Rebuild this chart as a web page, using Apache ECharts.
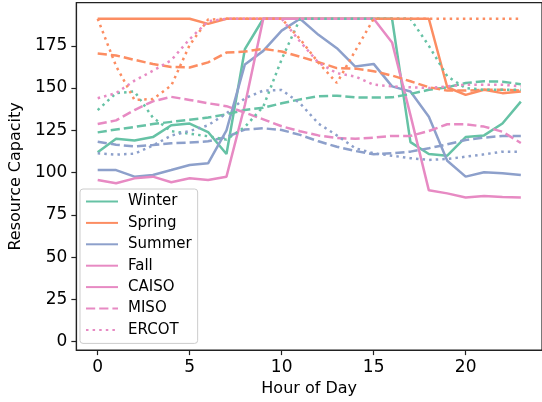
<!DOCTYPE html>
<html><head><meta charset="utf-8">
<script src="https://cdn.jsdelivr.net/npm/echarts@6/dist/echarts.min.js"></script>
<style>html,body{margin:0;padding:0;background:#fff}#c{width:542px;height:402px}</style>
</head><body><div id="c"></div>
<script>
const hours = [0,1,2,3,4,5,6,7,8,9,10,11,12,13,14,15,16,17,18,19,20,21,22,23];
const seasons = ["Winter","Spring","Summer","Fall"];
const isos = ["CAISO","MISO","ERCOT"];
const xTicks = [0,5,10,15,20];
const yTicks = [0,25,50,75,100,125,150,175];

const winterCAISO = [112,120,119,121,128,129,124,111,173,191,191,191,191,191,191,191,191,118,111,110,121,122,129,142];
const springCAISO = [191,191,191,191,191,191,188,191,191,191,191,191,191,191,191,191,191,191,191,150.5,146,149,147,148];
const summerCAISO = [101.5,101.5,97.6,98.6,101.5,104.5,105.5,125,164,172,184,191,181.5,173.6,162.7,164.3,151,148,133,107,97.6,100.2,99.6,98.6];
const fallCAISO = [95.6,93.7,96.6,97.6,94.3,96.6,95.6,97.6,140,191,191,191,191,191,191,191,177,134,89.5,87.7,85.3,86.2,85.6,85.3];

const winterMISO = [123.8,125.5,127,128.7,130,131.3,132.6,134.5,137,138.4,141,143.3,145.2,145.5,144.5,144.4,144.5,146.5,149,150.5,153,154,153.8,152.3];
const springMISO = [170.4,169.3,166.7,164.2,162.5,162.2,165.2,171,171.6,173.2,171.6,168.6,165.3,161.8,161.5,160,157.4,154,150.5,148.5,148.5,149,149,148.5];
const summerMISO = [118.3,116.5,115.5,116.3,117.3,117.8,118.5,121,125.5,126.2,125.2,122.3,118.5,115.3,112.8,110.8,111.4,112.4,114.4,116.7,119.3,120.7,121.7,121.7];
const fallMISO = [128.7,130.9,137,142.2,144.8,143,141,139.3,135.5,131.5,127.4,124.5,122,120.5,120,120.7,121.7,121.7,124.6,128.6,128.6,127.2,124.2,117.5];

const winterERCOT = [137,147,148,132.5,124.5,123,121.5,119.5,127,139,167,191,191,191,191,191,191,191,175,157,150,149,149,149];
const springERCOT = [191,163,143,143.5,151.5,175.5,190.5,191,191,191,191,179,165,153,172,191,191,191,191,191,191,191,191,191];
const summerERCOT = [111.4,110.6,111.2,116,121.9,124.6,128,135,144,148.5,148.9,141,129,122,114.4,111.4,110,108.5,107.5,108.1,109.4,110.8,112.4,112.4];
const fallERCOT = [144,147,154.4,160.2,166.5,179,189.5,191,191,191,191,177.5,165,158.8,156.8,152,151,150.5,150,151,152,152,152,151];

const values = {
  CAISO: [winterCAISO, springCAISO, summerCAISO, fallCAISO],
  MISO: [winterMISO, springMISO, summerMISO, fallMISO],
  ERCOT: [winterERCOT, springERCOT, summerERCOT, fallERCOT]
};
const colors = ["#66c2a5","#fc8d62","#8da0cb","#e78ac3"];
const dashes = { CAISO: "solid", MISO: [9.2,4], ERCOT: [2.5,4.1] };
const LW = 2.5;
const FONT = "DejaVu Sans";

const series = [];
isos.forEach(iso => {
  seasons.forEach((s, i) => {
    series.push({
      name: iso === "CAISO" ? s : s + " " + iso,
      type: "line",
      data: hours.map((h, k) => [h, values[iso][i][k]]),
      symbol: "none",
      color: colors[i],
      lineStyle: { color: colors[i], width: LW, type: dashes[iso], cap: "butt" },
      animation: false,
      silent: true
    });
  });
});
isos.forEach(iso => {
  series.push({
    name: iso, type: "line", data: [], symbol: "none", color: colors[3],
    lineStyle: { color: colors[3], width: LW, type: dashes[iso], cap: "butt" },
    animation: false
  });
});

const chart = echarts.init(document.getElementById("c"), null, { renderer: "canvas" });
chart.setOption({
  animation: false,
  backgroundColor: "#fff",
  textStyle: { fontFamily: FONT },
  grid: { left: 72.7, top: 2.7, right: -2.7, bottom: 51, show: true, borderColor: "#222", borderWidth: 1.2, backgroundColor: "transparent" },
  legend: {
    data: seasons.concat(isos),
    orient: "vertical",
    left: 80, top: 189,
    padding: [5, 6, 6, 5],
    itemWidth: 32, itemHeight: 14, itemGap: 6.4,
    itemStyle: { opacity: 0 },
    textStyle: { fontFamily: FONT, fontSize: 15, lineHeight: 14, color: "#000", padding: [0, 0, 0, 5] },
    backgroundColor: "rgba(255,255,255,0.8)",
    borderColor: "#cccccc", borderWidth: 1, borderRadius: 3,
    selectedMode: false
  },
  xAxis: {
    type: "value", min: -1.16, max: 24.15,
    name: "Hour of Day", nameLocation: "middle", nameGap: 29,
    nameTextStyle: { fontFamily: FONT, fontSize: 16, color: "#000" },
    axisLine: { show: true, onZero: false, lineStyle: { color: "#222", width: 1.2 } },
    axisTick: { show: true, length: 5, inside: false, customValues: xTicks, lineStyle: { color: "#222", width: 1.2 } },
    axisLabel: { customValues: xTicks, fontFamily: FONT, fontSize: 17, color: "#000", margin: 9 },
    splitLine: { show: false }
  },
  yAxis: {
    type: "value", min: -5, max: 200.5,
    name: "Resource Capacity", nameLocation: "middle", nameGap: 51,
    nameTextStyle: { fontFamily: FONT, fontSize: 16, color: "#000" },
    axisLine: { show: true, onZero: false, lineStyle: { color: "#222", width: 1.2 } },
    axisTick: { show: true, length: 5, inside: false, customValues: yTicks, lineStyle: { color: "#222", width: 1.2 } },
    axisLabel: { customValues: yTicks, fontFamily: FONT, fontSize: 17, color: "#000", margin: 9 },
    splitLine: { show: false }
  },
  series: series
});
</script></body></html>
